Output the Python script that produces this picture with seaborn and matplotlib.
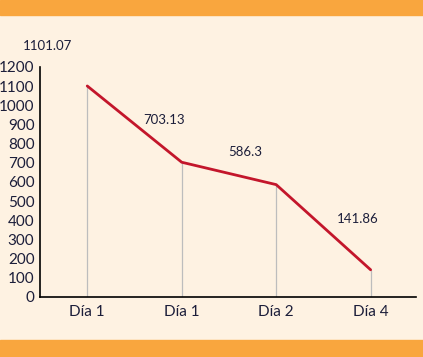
import matplotlib
matplotlib.use("Agg")
import matplotlib.pyplot as plt
import seaborn as sns
import pandas as pd
from matplotlib.patches import Rectangle

# chart data
days = ["Día 1", "Día 1", "Día 2", "Día 4"]
values = [1101.07, 703.13, 586.3, 141.86]
value_labels = ["1101.07", "703.13", "586.3", "141.86"]
y_ticks = list(range(0, 1201, 100))

df = pd.DataFrame({"pos": range(len(days)), "value": values})

sns.set_theme(style="white")
plt.rcParams["font.family"] = ["Lato", "DejaVu Sans"]

bg = "#FEF2E2"
orange = "#F9A63E"
text_col = "#1C1E3A"
red = "#C3162B"

fig = plt.figure(figsize=(4.23, 3.57), dpi=100, facecolor=bg)
ax = fig.add_axes([40 / 423, 60 / 357, 376 / 423, 230 / 357])
ax.set_facecolor(bg)

# orange bands top and bottom
fig.patches.append(Rectangle((0, 1 - 15 / 357), 1, 15 / 357, transform=fig.transFigure,
                             color=orange, zorder=0))
fig.patches.append(Rectangle((0, 0), 1, 17 / 357, transform=fig.transFigure,
                             color=orange, zorder=0))

# drop lines from each point
ax.vlines(df["pos"], 0, df["value"], color="#BDBDBD", lw=0.9, zorder=1)

sns.lineplot(data=df, x="pos", y="value", color=red, lw=2, ax=ax, zorder=3)

# value labels (offsets in pixels from each point)
offsets = [(-40, 40), (-18, 42), (-31, 33), (-13, 51)]
for x, y, lab, off in zip(df["pos"], df["value"], value_labels, offsets):
    ax.annotate(lab, (x, y), xytext=off, textcoords="offset pixels",
                ha="center", va="center", fontsize=9.5, color=text_col,
                annotation_clip=False)

ax.set_xlim(-0.5, 3.48)
ax.set_ylim(0, 1200)
ax.set_xticks(df["pos"])
ax.set_xticklabels(days)
ax.set_yticks(y_ticks)
ax.tick_params(axis="both", length=0, labelsize=11, colors=text_col)
ax.tick_params(axis="y", pad=4)
ax.tick_params(axis="x", pad=6)
ax.set_xlabel("")
ax.set_ylabel("")

for s in ["top", "right"]:
    ax.spines[s].set_visible(False)
for s in ["left", "bottom"]:
    ax.spines[s].set_color("black")
    ax.spines[s].set_linewidth(1.2)

fig.savefig("out.png", dpi=100, facecolor=bg)
